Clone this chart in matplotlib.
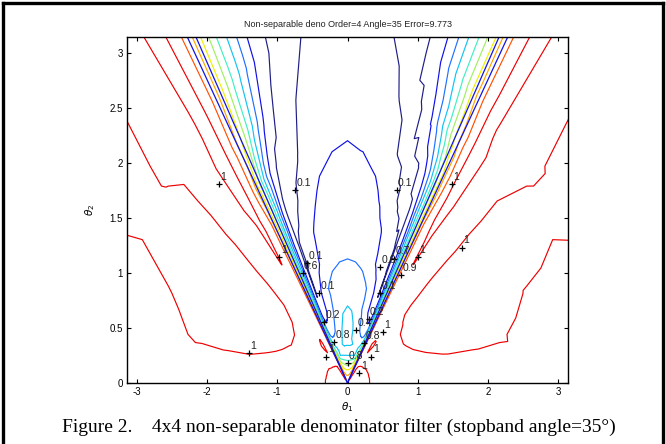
import numpy as np
import matplotlib
matplotlib.use("Agg")
import matplotlib.pyplot as plt
import matplotlib.tri as mtri
from matplotlib.lines import Line2D

# magnitude response read off the picture, sampled on a polar grid
# (angle measured from the theta2 axis, same values mirrored for theta1 < 0)
angles_deg = [0, 6, 12, 16, 19, 22, 24.5, 27, 29, 31, 33, 35, 37, 39.3,
              41, 43, 46, 50, 55, 60, 66, 72, 79, 85, 90]
radii = [0.04, 0.1, 0.18, 0.27, 0.36, 0.5, 0.7, 0.9, 1.15, 1.45, 1.8, 2.2, 2.7, 3.2, 4.6]

response = [
    [0.85, 0.85, 0.85, 0.85, 0.85, 0.85, 0.85, 0.86, 0.87, 0.88, 0.9, 0.93, 0.96, 0.98,
     0.99, 0.998, 1.004, 1.006, 1.006, 1.006, 1.006, 1.006, 1.006, 1.006, 1.006],
    [0.75, 0.75, 0.76, 0.77, 0.78, 0.79, 0.8, 0.82, 0.84, 0.86, 0.89, 0.92, 0.95, 0.98,
     0.99, 0.998, 1.004, 1.006, 1.006, 1.006, 1.006, 1.006, 1.006, 1.006, 1.006],
    [0.55, 0.56, 0.58, 0.6, 0.62, 0.64, 0.66, 0.7, 0.74, 0.79, 0.85, 0.9, 0.95, 0.98,
     0.99, 0.998, 1.003, 1.005, 1.005, 1.005, 1.005, 1.005, 1.005, 1.005, 1.005],
    [0.36, 0.36, 0.37, 0.38, 0.39, 0.4, 0.43, 0.5, 0.57, 0.65, 0.75, 0.85, 0.94, 0.98,
     0.99, 0.995, 0.995, 0.997, 0.999, 1.0, 1.002, 1.003, 1.003, 1.003, 1.003],
    [0.41, 0.41, 0.4, 0.39, 0.38, 0.38, 0.39, 0.41, 0.45, 0.52, 0.63, 0.79, 0.93, 0.98,
     0.99, 0.995, 0.999, 0.996, 0.995, 0.995, 0.995, 0.995, 0.996, 0.997, 0.997],
    [0.44, 0.42, 0.38, 0.34, 0.31, 0.29, 0.27, 0.26, 0.28, 0.34, 0.5, 0.74, 0.93, 0.985,
     0.993, 0.997, 1.003, 0.997, 0.995, 0.995, 0.995, 0.995, 0.995, 0.995, 0.995],
    [0.4, 0.39, 0.35, 0.31, 0.28, 0.24, 0.2, 0.17, 0.15, 0.22, 0.45, 0.72, 0.93, 0.985,
     0.99, 0.993, 0.992, 0.992, 0.993, 0.994, 0.994, 0.994, 0.993, 0.993, 0.993],
    [0.35, 0.345, 0.33, 0.31, 0.29, 0.25, 0.2, 0.15, 0.097, 0.2, 0.45, 0.7, 0.92, 0.985,
     0.99, 0.99, 0.99, 0.994, 0.998, 1.001, 1.001, 0.998, 0.993, 0.99, 0.99],
    [0.295, 0.29, 0.275, 0.25, 0.215, 0.18, 0.15, 0.12, 0.095, 0.18, 0.42, 0.68, 0.91, 0.985,
     0.99, 0.99, 0.991, 0.996, 1.006, 1.008, 1.008, 1.004, 0.997, 0.99, 0.99],
    [0.27, 0.26, 0.245, 0.225, 0.205, 0.17, 0.135, 0.108, 0.095, 0.17, 0.4, 0.66, 0.9, 0.99,
     1.001, 0.993, 0.987, 0.996, 1.008, 1.012, 1.012, 1.01, 1.001, 0.99, 0.99],
    [0.24, 0.235, 0.215, 0.185, 0.15, 0.11, 0.088, 0.078, 0.085, 0.2, 0.42, 0.66, 0.9, 0.995,
     1.005, 0.995, 0.986, 0.994, 1.01, 1.015, 1.015, 1.01, 1.003, 0.99, 0.99],
    [0.2, 0.19, 0.165, 0.13, 0.098, 0.085, 0.08, 0.09, 0.14, 0.25, 0.42, 0.63, 0.85, 0.99,
     1.01, 1.002, 0.986, 0.993, 1.01, 1.015, 1.015, 1.012, 1.003, 0.99, 0.99],
    [0.17, 0.165, 0.13, 0.098, 0.082, 0.085, 0.12, 0.22, 0.33, 0.45, 0.59, 0.74, 0.87, 0.99,
     1.018, 1.006, 0.986, 0.992, 1.01, 1.015, 1.01, 0.998, 0.99, 0.99, 0.99],
    [0.15, 0.14, 0.1, 0.075, 0.08, 0.12, 0.2, 0.31, 0.41, 0.51, 0.64, 0.79, 0.9, 0.996,
     1.025, 0.997, 0.985, 0.99, 0.998, 1.008, 1.0, 0.99, 0.99, 0.99, 0.99],
    [0.15, 0.14, 0.1, 0.075, 0.08, 0.12, 0.2, 0.31, 0.41, 0.51, 0.64, 0.79, 0.9, 0.996,
     1.025, 0.996, 0.986, 0.998, 1.01, 1.012, 1.01, 1.005, 0.995, 0.99, 0.99],
]

levels = [0.1, 0.2, 0.3, 0.4, 0.5, 0.6, 0.7, 0.8, 0.9, 1.0]
level_colors = ["#1e1e86", "#1010e6", "#2070ff", "#10c4f4", "#40f0c0",
                "#a0f060", "#f0f000", "#ffa400", "#ff5000", "#ee0000"]

# ideal fan edges (degrees from the theta2 axis)
boundary_angles_deg = [34.5, 36.0]

# contour labels (clabel style)
label_x = [-1.83, -0.75, 0.70, 1.49, 1.63, -1.40, -0.97, 1.00, -0.64, -0.57, -0.40,
           -0.33, -0.19, -0.30, 0.00, 0.17, 0.12, 0.24, 0.34, 0.30, 0.50, 0.46,
           0.47, 0.66, 0.76]
label_y = [1.81, 1.75, 1.75, 1.81, 1.23, 0.27, 1.14, 1.14, 1.00, 1.09, 0.82,
           0.55, 0.37, 0.24, 0.18, 0.09, 0.48, 0.36, 0.24, 0.58, 0.46, 0.82,
           1.05, 1.13, 0.98]
label_text = ["1", "0.1", "0.1", "1", "1", "1", "1", "1", "0.6", "0.1", "0.1",
              "0.2", "0.8", "1", "0.8", "1", "0.4", "0.8", "1", "0.2", "1", "0.1",
              "0.6", "0.7", "0.9"]

title = "Non-separable deno Order=4 Angle=35 Error=9.773"
caption = "Figure 2.    4x4 non-separable denominator filter (stopband angle=35\u00b0)"

plt.rcParams["font.family"] = ["Liberation Sans", "DejaVu Sans"]

# full angle list from -90 to 90, values mirrored
ang = np.array(angles_deg, dtype=float)
full_ang = np.concatenate([-ang[:0:-1], ang])
vals = np.array(response)
full_vals = np.concatenate([vals[:, :0:-1], vals], axis=1)

rr, aa = np.meshgrid(radii, np.radians(full_ang), indexing="ij")
px = (rr * np.sin(aa)).ravel()
py = (rr * np.cos(aa)).ravel()
pz = full_vals.ravel()

# structured triangles on the polar grid (neighbouring samples only)
nr, na = rr.shape
triangles = []
for i in range(nr - 1):
    for j in range(na - 1):
        p00 = i * na + j
        p01 = i * na + j + 1
        p10 = (i + 1) * na + j
        p11 = (i + 1) * na + j + 1
        triangles.append([p00, p10, p11])
        triangles.append([p00, p11, p01])
tri = mtri.Triangulation(px, py, triangles)

fig = plt.figure(figsize=(6.66, 4.44), dpi=100)
ax = fig.add_axes([127 / 666, 1 - 383 / 444, 441 / 666, 346 / 444])

ax.tricontour(tri, pz, levels=levels, colors=level_colors, linewidths=0.85)

for a in boundary_angles_deg:
    k = np.tan(np.radians(a))
    ax.plot([0, -np.pi * k], [0, np.pi], color="#1414e0", lw=0.9)
    ax.plot([0, np.pi * k], [0, np.pi], color="#1414e0", lw=0.9)

ax.plot(label_x, label_y, "+", color="black", ms=5, mew=0.9)
for x, y, s in zip(label_x, label_y, label_text):
    ax.annotate(s, (x, y), xytext=(1, 1.5), textcoords="offset points",
                fontsize=7.5, color="#222222", va="bottom", ha="left")

ax.set_xlim(-np.pi, np.pi)
ax.set_ylim(0, np.pi)
ax.set_xticks([-3, -2, -1, 0, 1, 2, 3])
ax.set_xticklabels(["-3", "-2", "-1", "0", "1", "2", "3"])
ax.set_yticks([0, 0.5, 1, 1.5, 2, 2.5, 3])
ax.set_yticklabels(["0", "0.5", "1", "1.5", "2", "2.5", "3"])
ax.tick_params(direction="in", top=True, right=True, labelsize=7, length=3,
               width=0.8, pad=3)
for sp in ax.spines.values():
    sp.set_linewidth(1.0)

ax.set_xlabel(r"$\theta_1$", fontsize=7.5, labelpad=2)
ax.set_ylabel(r"$\theta_2$", fontsize=7.5, labelpad=9)
ax.set_title(title, fontsize=6.5, color="#222222", pad=7)

fig.text(0.5 + 6 / 666, 1 - 427 / 444, caption, ha="center", va="center",
         fontsize=14, family="Liberation Serif")

# page frame around the figure
frame = dict(color="black", lw=2.4, transform=fig.transFigure, clip_on=False)
fig.add_artist(Line2D([3 / 666, 3 / 666], [0, 1 - 3 / 444], **frame))
fig.add_artist(Line2D([3 / 666, 663 / 666], [1 - 3 / 444, 1 - 3 / 444], **frame))
fig.add_artist(Line2D([663 / 666, 663 / 666], [0, 1 - 3 / 444], **frame))

fig.savefig("out.png", dpi=100)
